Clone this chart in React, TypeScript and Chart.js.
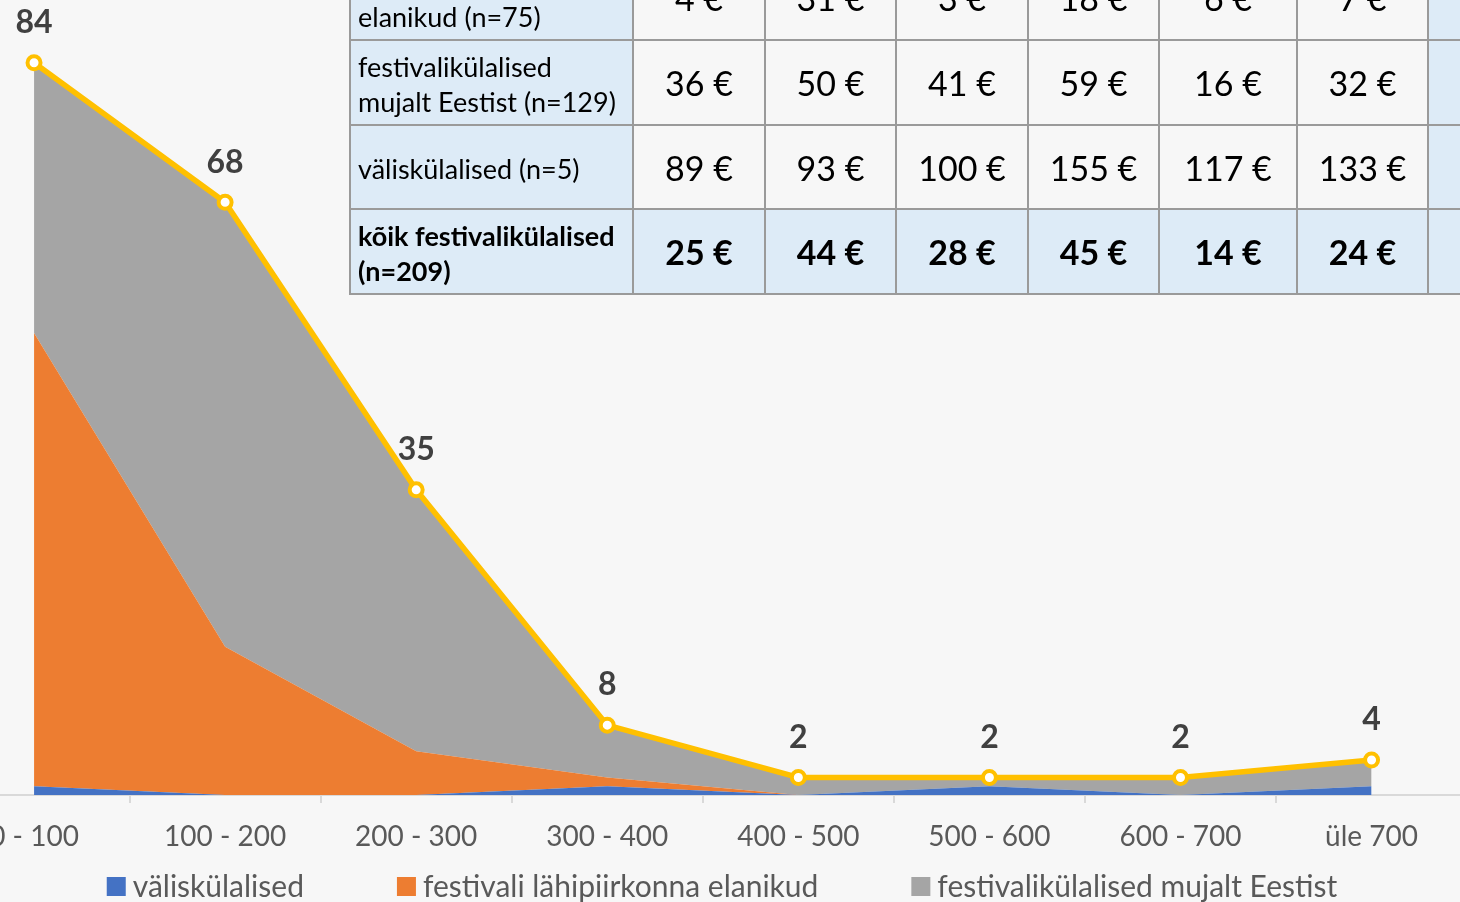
import React, { useEffect, useRef } from 'react';
import { Chart, registerables } from 'chart.js';

Chart.register(...registerables);

// ---- chart data ----
const categories = ['0 - 100', '100 - 200', '200 - 300', '300 - 400', '400 - 500', '500 - 600', '600 - 700', 'üle 700'];
const foreignGuests = [1, 0, 0, 1, 0, 1, 0, 1];
const localResidents = [52, 17, 5, 1, 0, 0, 0, 0];
const otherEstonia = [31, 51, 30, 6, 2, 1, 2, 3];
const allGuests = [84, 68, 35, 8, 2, 2, 2, 4];

const seriesNames = ['väliskülalised', 'festivali lähipiirkonna elanikud', 'festivalikülalised mujalt Eestist'];
const seriesColors = ['#4472C4', '#ED7D31', '#A5A5A5'];
const totalName = 'kõik festivalikülalised';
const totalColor = '#FFC000';

// ---- table data ----
const tableRowLabels = [
  ['festivali lähipiirkonna', 'elanikud (n=75)'],
  ['festivalikülalised', 'mujalt Eestist (n=129)'],
  ['väliskülalised (n=5)'],
  ['kõik festivalikülalised', '(n=209)'],
];
const tableLocal = ['4 €', '31 €', '3 €', '18 €', '6 €', '7 €', '2 €'];
const tableOther = ['36 €', '50 €', '41 €', '59 €', '16 €', '32 €', '21 €'];
const tableForeign = ['89 €', '93 €', '100 €', '155 €', '117 €', '133 €', '65 €'];
const tableAll = ['25 €', '44 €', '28 €', '45 €', '14 €', '24 €', '15 €'];
const tableRows = [tableLocal, tableOther, tableForeign, tableAll];

const FONT = 'Lato, "Open Sans", sans-serif';
const CANVAS_SHIFT = 72;
const CANVAS_W = 1460 + CANVAS_SHIFT + 20;

const legendPlugin = {
  id: 'customLegend',
  afterDraw(chart: any) {
    const ctx = chart.ctx;
    ctx.save();
    ctx.font = `30px ${FONT}`;
    ctx.textBaseline = 'middle';
    ctx.textAlign = 'left';
    const box = 19;
    const gap = 7;
    const itemGap = 93;
    const widths = seriesNames.map((n) => box + gap + ctx.measureText(n).width);
    const total = widths.reduce((a, b) => a + b, 0) + itemGap * (widths.length - 1);
    const center = 722 + CANVAS_SHIFT;
    let x = center - total / 2;
    const y = 886.5;
    seriesNames.forEach((name, i) => {
      ctx.fillStyle = seriesColors[i];
      ctx.fillRect(x, y - box / 2, box, box);
      ctx.fillStyle = '#595959';
      ctx.fillText(name, x + box + gap, y + 1);
      x += widths[i] + itemGap;
    });
    ctx.restore();
  },
};

const labelPlugin = {
  id: 'totalLabels',
  afterDatasetsDraw(chart: any) {
    const ctx = chart.ctx;
    const meta = chart.getDatasetMeta(3);
    ctx.save();
    ctx.font = `bold 32px ${FONT}`;
    ctx.fillStyle = '#404040';
    ctx.textAlign = 'center';
    ctx.textBaseline = 'middle';
    meta.data.forEach((pt: any, i: number) => {
      ctx.fillText(String(allGuests[i]), pt.x, pt.y - 40);
    });
    ctx.restore();
  },
};

function ChartCanvas() {
  const ref = useRef<HTMLCanvasElement | null>(null);
  useEffect(() => {
    if (!ref.current) return;
    const areaBase = {
      borderWidth: 0,
      borderColor: 'rgba(0,0,0,0)',
      pointRadius: 0,
      pointHoverRadius: 0,
      tension: 0,
      stack: 'areas',
      order: 1,
    };
    const chart = new Chart(ref.current, {
      type: 'line',
      data: {
        labels: categories,
        datasets: [
          { ...areaBase, label: seriesNames[0], data: foreignGuests, backgroundColor: seriesColors[0], fill: 'origin' },
          { ...areaBase, label: seriesNames[1], data: localResidents, backgroundColor: seriesColors[1], fill: '-1' },
          { ...areaBase, label: seriesNames[2], data: otherEstonia, backgroundColor: seriesColors[2], fill: '-1' },
          {
            label: totalName,
            data: allGuests,
            stack: 'total',
            order: 0,
            fill: false,
            borderColor: totalColor,
            borderWidth: 5.5,
            tension: 0,
            pointRadius: 6.5,
            pointBorderWidth: 4,
            pointBackgroundColor: '#FFFFFF',
            pointBorderColor: totalColor,
          },
        ],
      } as any,
      options: {
        animation: false,
        responsive: false,
        events: [],
        layout: { padding: { left: 7.4, right: 12.9, top: 10.2, bottom: 31.5 } },
        plugins: {
          legend: { display: false },
          tooltip: { enabled: false },
        },
        scales: {
          x: {
            offset: true,
            grid: {
              offset: true,
              drawOnChartArea: false,
              drawTicks: true,
              tickLength: 8,
              color: '#D9D9D9',
              lineWidth: 2,
            },
            border: { display: true, color: '#D9D9D9', width: 2 },
            ticks: {
              color: '#595959',
              font: { family: FONT, size: 28 },
              padding: 17,
              maxRotation: 0,
              autoSkip: false,
            },
          },
          y: {
            display: false,
            stacked: true,
            min: 0,
            max: 90,
          },
        },
      } as any,
      plugins: [labelPlugin, legendPlugin],
    });
    return () => chart.destroy();
  }, []);
  return (
    <canvas
      ref={ref}
      width={CANVAS_W}
      height={902}
      style={{ position: 'absolute', left: -CANVAS_SHIFT, top: 0, width: CANVAS_W, height: 902 }}
    />
  );
}

const colWidths = [283, 132, 131, 132, 131, 138, 131, 131];
const rowHeights = [85, 85, 84, 85];
const BORDER = '2px solid #9A9A9A';
const BLUE = '#DDEBF7';

function CostTable() {
  return (
    <div
      style={{
        position: 'absolute',
        left: 349,
        top: -44,
        display: 'grid',
        gridTemplateColumns: colWidths.map((w) => w + 'px').join(' '),
        gridTemplateRows: rowHeights.map((h) => h + 'px').join(' '),
        borderLeft: BORDER,
        fontFamily: FONT,
        color: '#000',
      }}
    >
      {tableRowLabels.map((lines, r) => {
        const bold = r === tableRowLabels.length - 1;
        return (
          <React.Fragment key={r}>
            <div
              style={{
                boxSizing: 'border-box',
                borderRight: BORDER,
                borderBottom: BORDER,
                background: BLUE,
                display: 'flex',
                flexDirection: 'column',
                justifyContent: 'center',
                paddingLeft: 7,
                paddingTop: 2,
                fontSize: 27,
                lineHeight: '35px',
                whiteSpace: 'nowrap',
                fontWeight: bold ? 700 : 400,
              }}
            >
              {lines.map((l, k) => (
                <span key={k}>{l}</span>
              ))}
            </div>
            {tableRows[r].map((v, c) => {
              const lastCol = c === tableRows[r].length - 1;
              const b = bold || lastCol;
              return (
                <div
                  key={c}
                  style={{
                    boxSizing: 'border-box',
                    borderRight: BORDER,
                    borderBottom: BORDER,
                    background: bold || lastCol ? BLUE : '#F7F7F7',
                    display: 'flex',
                    alignItems: 'center',
                    justifyContent: 'center',
                    fontSize: 34,
                    fontWeight: b ? 700 : 400,
                    whiteSpace: 'nowrap',
                  }}
                >
                  {v}
                </div>
              );
            })}
          </React.Fragment>
        );
      })}
    </div>
  );
}

export default function App() {
  return (
    <div
      style={{
        position: 'fixed',
        left: 0,
        top: 0,
        width: 1460,
        height: 902,
        overflow: 'hidden',
        background: '#F7F7F7',
      }}
    >
      <ChartCanvas />
      <CostTable />
    </div>
  );
}
